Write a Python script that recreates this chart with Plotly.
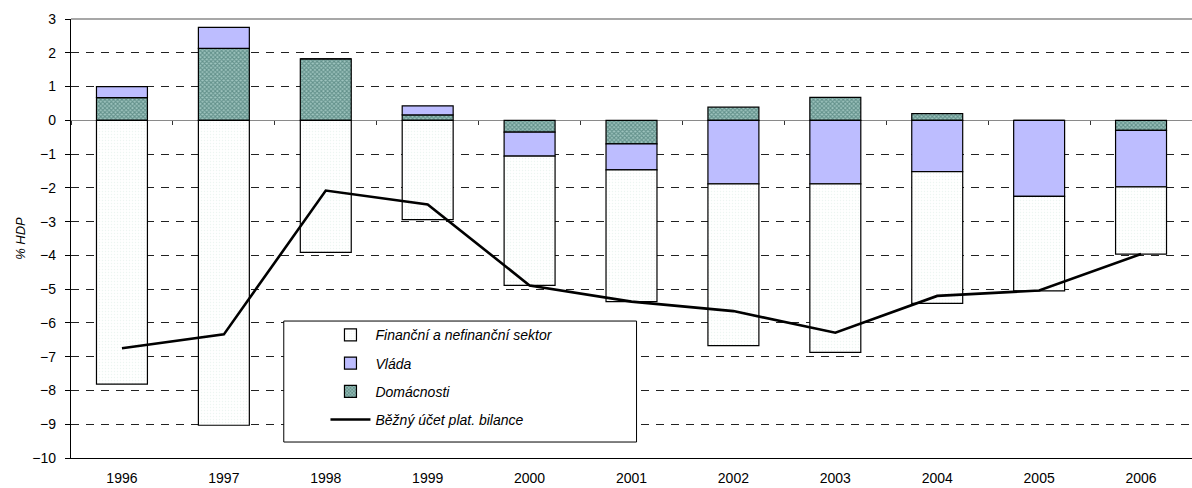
import plotly.graph_objects as go

years = ["1996", "1997", "1998", "1999", "2000", "2001", "2002", "2003", "2004", "2005", "2006"]
financni = [-7.81, -9.03, -3.91, -2.94, -3.83, -3.90, -4.79, -4.99, -3.90, -2.80, -1.99]
vlada = [0.33, 0.62, 0.00, 0.27, -0.71, -0.77, -1.88, -1.88, -1.52, -2.25, -1.67]
domacnosti = [0.67, 2.13, 1.82, 0.16, -0.35, -0.70, 0.39, 0.68, 0.20, 0.00, -0.30]
bezny_ucet = [-6.75, -6.34, -2.08, -2.49, -4.89, -5.37, -5.65, -6.29, -5.20, -5.04, -3.96]

y_ticks = list(range(-10, 4))
FONT = "Liberation Sans, Arial, sans-serif"

fig = go.Figure()

fig.add_trace(go.Bar(
    x=years, y=domacnosti, name="Domácnosti", legendrank=3, legendgroup="d",
    marker=dict(color="#9fc5bf", line=dict(color="black", width=1.2),
                pattern=dict(shape="x", fgcolor="#2a5f59", bgcolor="#9fc5bf",
                             size=3, solidity=0.6)),
))
fig.add_trace(go.Bar(
    x=years, y=vlada, name="Vláda", legendrank=2, legendgroup="v",
    marker=dict(color="#bdbdff", line=dict(color="black", width=1.2)),
))
fig.add_trace(go.Bar(
    x=years, y=financni, name="Finanční a nefinanční sektor", legendrank=1, legendgroup="f",
    marker=dict(color="#fafdfc", line=dict(color="black", width=1.2),
                pattern=dict(shape=".", fgcolor="#dcebe6", bgcolor="#ffffff",
                             size=3, solidity=0.2)),
))
fig.add_trace(go.Scatter(
    x=years, y=bezny_ucet, name="Běžný účet plat. bilance", legendrank=4, legendgroup="b",
    mode="lines", line=dict(color="black", width=2.6),
))
# helper axis: category-boundary ticks on the zero line
fig.add_trace(go.Scatter(x=[], y=[], xaxis="x2", showlegend=False, hoverinfo="skip"))

ymin, ymax = y_ticks[0], y_ticks[-1]
n = len(years)

fig.update_layout(
    width=1192, height=488,
    margin=dict(l=71, r=0, t=19, b=30),
    paper_bgcolor="white", plot_bgcolor="white",
    barmode="relative", bargap=0.5,
    font=dict(family=FONT, size=14, color="black"),
    showlegend=True,
    legend=dict(
        x=0.227, y=0.316, xanchor="left", yanchor="top",
        bgcolor="rgba(0,0,0,0)", borderwidth=0,
        font=dict(family=FONT, size=14, style="italic", color="black"),
        traceorder="grouped", tracegroupgap=7, itemwidth=40,
    ),
    xaxis=dict(
        type="category", showline=True, linecolor="black", linewidth=1.3,
        ticks="outside", ticklen=7, tickcolor="rgba(0,0,0,0)",
        showgrid=False, zeroline=False,
        tickfont=dict(family=FONT, size=14),
    ),
    xaxis2=dict(
        overlaying="x", anchor="free", position=(0 - ymin) / (ymax - ymin),
        range=[-0.5, n - 0.5], tickvals=[i - 0.5 for i in range(n + 1)],
        ticks="outside", ticklen=4, tickcolor="#333", tickwidth=1,
        showticklabels=False, showline=False, showgrid=False, zeroline=False,
    ),
    yaxis=dict(
        range=[ymin, ymax], tickvals=y_ticks,
        showline=True, linecolor="black", linewidth=1.3,
        ticks="outside", ticklen=5, tickcolor="black", ticklabelstandoff=6,
        showgrid=True, gridcolor="#222", griddash="8px,7px", gridwidth=1,
        zeroline=True, zerolinecolor="#8a8a8a", zerolinewidth=1.3,
        tickfont=dict(family=FONT, size=14),
        title=dict(text="% HDP", font=dict(family=FONT, size=13, style="italic", color="black"),
                   standoff=3),
    ),
    shapes=[
        dict(type="line", xref="paper", yref="paper", x0=0, x1=1, y0=1, y1=1,
             line=dict(color="#8a8a8a", width=1.3), layer="above"),
        dict(type="rect", xref="paper", yref="paper", x0=0.1898, x1=0.5045, y0=0.0364, y1=0.312,
             fillcolor="white", line=dict(color="black", width=1), layer="above"),
    ],
)

fig.write_html("out.html", config={"displayModeBar": False},
               post_script="document.body.style.margin='0px';document.body.style.overflow='hidden';")
